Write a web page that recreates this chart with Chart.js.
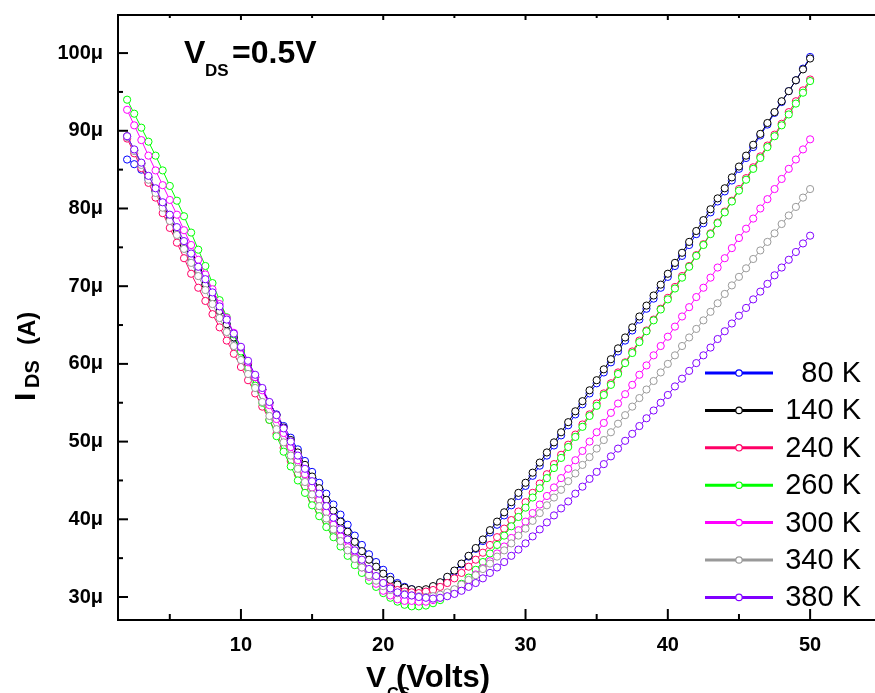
<!DOCTYPE html>
<html>
<head>
<meta charset="utf-8">
<script src="https://cdn.jsdelivr.net/npm/chart.js@4/dist/chart.umd.min.js"></script>
<style>
  html, body { margin: 0; padding: 0; background: #fff; }
  #wrap { position: relative; width: 875px; height: 693px; }
</style>
</head>
<body>
<div id="wrap"><canvas id="idsChart" width="875" height="693"></canvas></div>
<script>
/************ data (I_DS in µA) ************/
const vgs = [
  2, 2.5, 3, 3.5, 4, 4.5, 5, 5.5, 6, 6.5,
  7, 7.5, 8, 8.5, 9, 9.5, 10, 10.5, 11, 11.5,
  12, 12.5, 13, 13.5, 14, 14.5, 15, 15.5, 16, 16.5,
  17, 17.5, 18, 18.5, 19, 19.5, 20, 20.5, 21, 21.5,
  22, 22.5, 23, 23.5, 24, 24.5, 25, 25.5, 26, 26.5,
  27, 27.5, 28, 28.5, 29, 29.5, 30, 30.5, 31, 31.5,
  32, 32.5, 33, 33.5, 34, 34.5, 35, 35.5, 36, 36.5,
  37, 37.5, 38, 38.5, 39, 39.5, 40, 40.5, 41, 41.5,
  42, 42.5, 43, 43.5, 44, 44.5, 45, 45.5, 46, 46.5,
  47, 47.5, 48, 48.5, 49, 49.5, 50
];

const temps = ['80 K', '140 K', '240 K', '260 K', '300 K', '340 K', '380 K'];
const colors = ['#0000ff', '#000000', '#ff0066', '#00ff00', '#ff00ff', '#999999', '#8000ff'];

const ids80 = [
  86.3, 85.7, 85.0, 83.7, 82.2, 80.5, 78.8, 77.1, 75.3, 73.6,
  71.9, 70.2, 68.5, 66.8, 65.1, 63.4, 61.7, 60.0, 58.3, 56.7,
  55.0, 53.5, 52.0, 50.5, 49.0, 47.5, 46.1, 44.7, 43.3, 41.9,
  40.6, 39.3, 37.9, 36.7, 35.5, 34.5, 33.5, 32.6, 31.8, 31.3,
  31.0, 30.8, 30.9, 31.3, 31.8, 32.5, 33.3, 34.2, 35.2, 36.2,
  37.2, 38.3, 39.3, 40.5, 41.8, 43.0, 44.3, 45.6, 46.9, 48.2,
  49.5, 50.8, 52.1, 53.5, 54.8, 56.2, 57.5, 58.9, 60.2, 61.6,
  63.0, 64.3, 65.7, 67.1, 68.4, 69.8, 71.2, 72.6, 73.9, 75.3,
  76.7, 78.1, 79.5, 80.9, 82.2, 83.6, 85.1, 86.5, 87.9, 89.4,
  90.8, 92.3, 93.7, 95.1, 96.5, 98.0, 99.5
];
const ids140 = [
  89.3, 87.5, 85.8, 84.0, 82.3, 80.5, 78.8, 77.1, 75.3, 73.6,
  71.9, 70.2, 68.5, 66.8, 65.1, 63.4, 61.7, 60.0, 58.3, 56.7,
  55.0, 53.4, 51.8, 50.2, 48.6, 47.0, 45.5, 44.0, 42.5, 41.1,
  39.7, 38.4, 37.1, 35.9, 34.8, 33.9, 33.0, 32.2, 31.6, 31.2,
  31.0, 30.9, 31.0, 31.4, 31.9, 32.6, 33.4, 34.3, 35.3, 36.3,
  37.4, 38.6, 39.7, 40.9, 42.2, 43.4, 44.7, 46.0, 47.3, 48.6,
  49.9, 51.2, 52.5, 53.9, 55.2, 56.6, 57.9, 59.3, 60.6, 62.0,
  63.4, 64.7, 66.1, 67.5, 68.8, 70.2, 71.6, 73.0, 74.3, 75.7,
  77.1, 78.5, 79.9, 81.3, 82.6, 84.0, 85.4, 86.8, 88.2, 89.6,
  91.0, 92.4, 93.8, 95.1, 96.5, 97.9, 99.3
];
const ids240 = [
  89.0, 87.1, 85.2, 83.3, 81.4, 79.4, 77.5, 75.6, 73.6, 71.6,
  69.8, 68.1, 66.4, 64.7, 63.0, 61.3, 59.6, 57.9, 56.2, 54.5,
  52.8, 51.0, 49.2, 47.5, 45.8, 44.2, 42.6, 41.1, 39.7, 38.4,
  37.2, 36.1, 35.0, 34.1, 33.2, 32.5, 31.8, 31.3, 30.9, 30.7,
  30.6, 30.5, 30.7, 30.9, 31.3, 31.8, 32.4, 33.1, 33.9, 34.8,
  35.7, 36.7, 37.7, 38.8, 39.9, 41.0, 42.2, 43.4, 44.6, 45.8,
  47.1, 48.3, 49.6, 50.9, 52.2, 53.5, 54.9, 56.2, 57.5, 58.9,
  60.2, 61.6, 63.0, 64.3, 65.7, 67.1, 68.5, 69.9, 71.3, 72.6,
  74.0, 75.4, 76.8, 78.2, 79.6, 81.0, 82.5, 83.9, 85.3, 86.7,
  88.1, 89.5, 90.9, 92.4, 93.8, 95.2, 96.6
];
const ids260 = [
  94.0, 92.2, 90.4, 88.6, 86.8, 84.9, 82.9, 81.0, 79.0, 76.9,
  74.7, 72.6, 70.4, 68.2, 66.0, 63.8, 61.6, 59.4, 57.2, 55.0,
  52.8, 50.7, 48.7, 46.8, 45.0, 43.4, 41.8, 40.4, 39.0, 37.7,
  36.5, 35.3, 34.1, 33.1, 32.1, 31.3, 30.5, 29.9, 29.4, 29.0,
  28.8, 28.8, 28.9, 29.2, 29.6, 30.2, 30.9, 31.7, 32.5, 33.5,
  34.5, 35.6, 36.7, 37.9, 39.1, 40.3, 41.5, 42.8, 44.0, 45.3,
  46.6, 47.9, 49.3, 50.6, 51.9, 53.3, 54.6, 56.0, 57.3, 58.7,
  60.1, 61.4, 62.8, 64.2, 65.6, 67.0, 68.3, 69.7, 71.1, 72.5,
  73.9, 75.3, 76.7, 78.1, 79.5, 80.9, 82.3, 83.7, 85.1, 86.5,
  87.9, 89.3, 90.7, 92.1, 93.5, 94.9, 96.4
];
const ids300 = [
  92.7, 90.7, 88.8, 86.8, 84.9, 83.0, 81.1, 79.2, 77.2, 75.3,
  73.4, 71.5, 69.6, 67.7, 65.9, 64.0, 62.1, 60.2, 58.3, 56.6,
  54.7, 52.9, 51.1, 49.3, 47.6, 45.8, 44.1, 42.5, 40.9, 39.3,
  37.8, 36.4, 35.1, 33.8, 32.6, 31.7, 30.8, 30.2, 29.7, 29.5,
  29.5, 29.4, 29.4, 29.6, 29.9, 30.3, 30.8, 31.4, 32.1, 32.9,
  33.7, 34.6, 35.6, 36.5, 37.6, 38.6, 39.7, 40.8, 41.9, 43.0,
  44.1, 45.3, 46.5, 47.6, 48.8, 50.0, 51.2, 52.4, 53.7, 54.9,
  56.1, 57.3, 58.6, 59.8, 61.1, 62.3, 63.5, 64.8, 66.1, 67.3,
  68.6, 69.8, 71.1, 72.4, 73.6, 74.9, 76.2, 77.4, 78.7, 80.0,
  81.2, 82.5, 83.8, 85.1, 86.3, 87.6, 88.9
];
const ids340 = [
  89.2, 87.4, 85.6, 83.7, 82.0, 80.1, 78.4, 76.6, 74.8, 73.0,
  71.3, 69.5, 67.7, 65.9, 64.1, 62.3, 60.5, 58.7, 56.9, 55.1,
  53.3, 51.6, 49.9, 48.2, 46.5, 44.8, 43.2, 41.7, 40.1, 38.7,
  37.2, 36.0, 34.9, 33.8, 32.8, 32.1, 31.4, 30.9, 30.5, 30.4,
  30.2, 30.1, 30.0, 30.1, 30.3, 30.6, 31.0, 31.6, 32.2, 32.8,
  33.6, 34.3, 35.2, 36.0, 36.9, 37.9, 38.8, 39.8, 40.8, 41.8,
  42.8, 43.8, 44.9, 45.9, 47.0, 48.0, 49.1, 50.2, 51.2, 52.3,
  53.4, 54.5, 55.6, 56.7, 57.8, 58.9, 60.0, 61.1, 62.3, 63.4,
  64.5, 65.6, 66.7, 67.8, 69.0, 70.1, 71.2, 72.3, 73.5, 74.6,
  75.7, 76.8, 78.0, 79.1, 80.2, 81.4, 82.5
];
const ids380 = [
  89.3, 87.6, 85.9, 84.2, 82.6, 80.8, 79.2, 77.6, 75.8, 74.2,
  72.5, 70.9, 69.2, 67.4, 65.7, 63.9, 62.2, 60.4, 58.6, 56.9,
  55.1, 53.4, 51.7, 50.0, 48.2, 46.5, 44.9, 43.3, 41.7, 40.2,
  38.7, 37.4, 36.0, 34.8, 33.6, 32.7, 31.8, 31.1, 30.6, 30.3,
  30.2, 30.0, 29.9, 29.8, 29.9, 30.1, 30.4, 30.8, 31.3, 31.8,
  32.4, 33.1, 33.8, 34.5, 35.3, 36.1, 36.9, 37.8, 38.7, 39.6,
  40.5, 41.4, 42.3, 43.3, 44.2, 45.2, 46.1, 47.1, 48.1, 49.1,
  50.1, 51.0, 52.0, 53.0, 54.0, 55.0, 56.0, 57.1, 58.1, 59.1,
  60.1, 61.1, 62.1, 63.2, 64.2, 65.2, 66.2, 67.2, 68.3, 69.3,
  70.3, 71.4, 72.4, 73.4, 74.4, 75.5, 76.5
];

const xTicks = [10, 20, 30, 40, 50];
const xMinor = [5, 15, 25, 35, 45];
const yTicks = [30, 40, 50, 60, 70, 80, 90, 100];
const yMinor = [35, 45, 55, 65, 75, 85, 95];

const series = [ids80, ids140, ids240, ids260, ids300, ids340, ids380];
const FONT = '"Liberation Sans", Arial, Helvetica, sans-serif';

/************ inward ticks, frame, titles, legend ************/
const decor = {
  id: 'decor',
  afterDraw(chart) {
    const ctx = chart.ctx;
    const a = chart.chartArea;
    const xs = chart.scales.x;
    const ys = chart.scales.y;

    function seg(x1, y1, x2, y2) {
      ctx.beginPath();
      ctx.moveTo(x1, y1);
      ctx.lineTo(x2, y2);
      ctx.stroke();
    }

    ctx.save();
    ctx.strokeStyle = '#000';
    ctx.lineWidth = 2;
    // top frame line
    seg(a.left - 1, a.top, a.right, a.top);

    xTicks.forEach(v => {
      const p = xs.getPixelForValue(v);
      seg(p, a.bottom, p, a.bottom - 11);
      seg(p, a.top, p, a.top + 5);
    });
    xMinor.forEach(v => {
      const p = xs.getPixelForValue(v);
      seg(p, a.bottom, p, a.bottom - 6);
      seg(p, a.top, p, a.top + 3);
    });
    yTicks.forEach(v => {
      const p = ys.getPixelForValue(v);
      seg(a.left, p, a.left + 10, p);
    });
    yMinor.forEach(v => {
      const p = ys.getPixelForValue(v);
      seg(a.left, p, a.left + 5, p);
    });

    ctx.fillStyle = '#000';
    ctx.textBaseline = 'alphabetic';
    ctx.textAlign = 'left';

    // V_DS annotation
    ctx.font = 'bold 32px ' + FONT;
    ctx.fillText('V', 184, 63);
    ctx.font = 'bold 17px ' + FONT;
    ctx.fillText('DS', 205, 76);
    ctx.font = 'bold 32px ' + FONT;
    ctx.fillText('=0.5V', 232, 63);

    // x title
    ctx.font = 'bold 30px ' + FONT;
    ctx.fillText('V', 366, 687);
    ctx.font = 'bold 16px ' + FONT;
    ctx.fillText('GS', 387, 699);
    ctx.font = 'bold 31px ' + FONT;
    ctx.fillText('(Volts)', 396, 687);

    // y title (rotated)
    ctx.save();
    ctx.translate(35, 401);
    ctx.rotate(-Math.PI / 2);
    ctx.font = 'bold 30px ' + FONT;
    ctx.fillText('I', 0, 0);
    ctx.font = 'bold 20px ' + FONT;
    ctx.fillText('DS', 13, 4);
    ctx.font = 'bold 24px ' + FONT;
    ctx.fillText('(A)', 56, 0);
    ctx.restore();

    // legend
    chart.data.datasets.forEach((ds, i) => {
      const y = 373 + i * 37.4;
      ctx.strokeStyle = ds.borderColor;
      ctx.lineWidth = 3;
      seg(705, y, 773, y);
      ctx.beginPath();
      ctx.arc(739, y, 3.2, 0, Math.PI * 2);
      ctx.fillStyle = '#fff';
      ctx.fill();
      ctx.lineWidth = 1.2;
      ctx.stroke();
      ctx.fillStyle = '#000';
      ctx.font = '29px ' + FONT;
      ctx.textAlign = 'right';
      ctx.textBaseline = 'middle';
      ctx.fillText(ds.label, 861, y + 1);
    });
    ctx.restore();
  }
};

/************ chart ************/
const datasets = series.map((vals, i) => ({
  label: temps[i],
  data: vgs.map((v, k) => ({ x: v, y: vals[k] })),
  borderColor: colors[i],
  backgroundColor: '#fff',
  borderWidth: 1,
  pointRadius: 3.6,
  pointBorderWidth: 1,
  pointBackgroundColor: '#fff',
  pointBorderColor: colors[i],
  tension: 0,
  order: series.length - 1 - i
}));

new Chart(document.getElementById('idsChart'), {
  type: 'line',
  data: { datasets: datasets },
  options: {
    responsive: false,
    animation: false,
    devicePixelRatio: 1,
    layout: { autoPadding: false, padding: { left: 0, right: 0, top: 15, bottom: 0 } },
    plugins: {
      legend: { display: false },
      tooltip: { enabled: false }
    },
    scales: {
      x: {
        type: 'linear',
        min: 1.36,
        max: 54.56,
        afterFit: s => { s.height = 73; s.paddingLeft = 0; s.paddingRight = 0; },
        afterBuildTicks: s => { s.ticks = xTicks.map(v => ({ value: v })); },
        grid: { drawOnChartArea: false, drawTicks: false },
        border: { display: true, color: '#000', width: 2 },
        ticks: {
          padding: 13,
          color: '#000',
          maxRotation: 0,
          font: { family: FONT, size: 20, weight: 'bold' }
        }
      },
      y: {
        type: 'linear',
        min: 27.04,
        max: 104.9,
        afterFit: s => { s.width = 118; s.paddingTop = 0; s.paddingBottom = 0; },
        afterBuildTicks: s => { s.ticks = yTicks.map(v => ({ value: v })); },
        grid: { drawOnChartArea: false, drawTicks: false },
        border: { display: true, color: '#000', width: 2 },
        ticks: {
          padding: 15,
          color: '#000',
          font: { family: FONT, size: 20, weight: 'bold' },
          callback: v => v + 'μ'
        }
      }
    }
  },
  plugins: [decor]
});
</script>
</body>
</html>
